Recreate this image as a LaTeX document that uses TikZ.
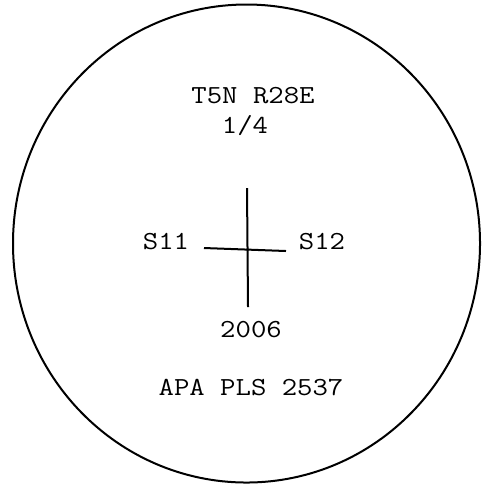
\documentclass[tikz,border=0pt]{standalone}
\usepackage{fontspec}
\setmonofont{Latin Modern Mono}[FakeStretch=1.15]
\usetikzlibrary{calc}
\tikzset{lbl/.style={font=\ttfamily\fontsize{13}{15}\selectfont,inner sep=0pt,anchor=base}}

\begin{document}
\begin{tikzpicture}[x=.5pt,y=-.5pt]
 \useasboundingbox (0,0) rectangle (485,484);
 \draw[line width=1pt] (246.5,243.5) ellipse[x radius=233.5,y radius=239];
 \node[lbl] (twp) at (253,103) {T5N R28E};
 \node[lbl] (qtr) at (245,133) {1/4};
 \node[lbl] (sw) at (166,249) {S11};
 \node[lbl] (se) at (322,249) {S12};
 \node[lbl] (yr) at (251,337) {2006};
 \node[lbl] (pls) at (251,395) {APA PLS 2537};
 \coordinate (n) at (247,188);
 \coordinate (s) at (248,307);
 \coordinate (w) at (204,248);
 \coordinate (e) at (286,251);
 \draw[line width=1pt] (n)--(s) (w)--(e);
\end{tikzpicture}
\end{document}
